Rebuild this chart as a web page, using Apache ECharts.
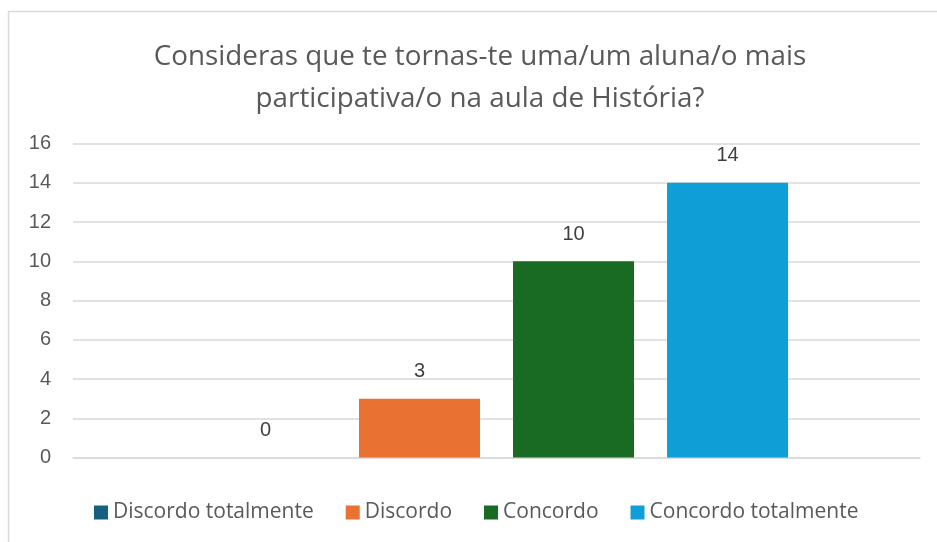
<!DOCTYPE html>
<html><head><meta charset="utf-8">
<script src="https://cdn.jsdelivr.net/npm/echarts@6/dist/echarts.min.js"></script>
<style>html,body{margin:0;padding:0;background:#fff}#c{width:937px;height:542px}</style>
</head><body><div id="c"></div>
<script>
const categories = [''];
const seriesNames = ['Discordo totalmente', 'Discordo', 'Concordo', 'Concordo totalmente'];
const seriesValues = [[0], [3], [10], [14]];
const seriesColors = ['#156082', '#E97132', '#196B24', '#0F9ED5'];
const yTicks = [0, 2, 4, 6, 8, 10, 12, 14, 16];
const titleText = 'Consideras que te tornas-te uma/um aluna/o mais\nparticipativa/o na aula de História?';

const font = '"Open Sans", "Noto Sans", sans-serif';
const numFont = '"Liberation Sans", Arial, sans-serif';
const chart = echarts.init(document.getElementById('c'), null, {renderer: 'canvas'});
chart.setOption({
  animation: false,
  backgroundColor: '#fff',
  graphic: [{type: 'rect', shape: {x: 8.5, y: 11.5, width: 1000, height: 1000}, style: {fill: 'none', stroke: '#d9d9d9', lineWidth: 1.5}, silent: true}],
  title: {
    text: titleText, left: 475, top: 31, textAlign: 'center',
    textStyle: {fontFamily: font, fontSize: 27.8, fontWeight: 'normal', color: '#595959', lineHeight: 42}
  },
  legend: {
    data: seriesNames, bottom: 14, left: 89, itemWidth: 14, itemHeight: 14, itemGap: 32,
    icon: 'rect',
    textStyle: {fontFamily: font, fontSize: 21, color: '#595959', padding: [0, 0, 0, 0]}
  },
  grid: {left: 73, right: 17, top: 143.5, bottom: 84.5, containLabel: false},
  xAxis: {type: 'category', data: categories, axisLine: {show: true, lineStyle: {color: '#d9d9d9', width: 1.5}}, axisTick: {show: false}, axisLabel: {show: false}},
  yAxis: {
    type: 'value', min: yTicks[0], max: yTicks[yTicks.length - 1], interval: 2,
    axisLine: {show: false}, axisTick: {show: false},
    axisLabel: {fontFamily: numFont, fontSize: 20, color: '#595959', margin: 22},
    splitLine: {lineStyle: {color: '#d9d9d9', width: 1.5}}
  },
  series: seriesNames.map((n, i) => ({
    name: n, type: 'bar', data: seriesValues[i], barWidth: 121, barGap: '27.3%',
    itemStyle: {color: seriesColors[i]},
    label: {show: true, position: 'top', distance: 17, fontFamily: numFont, fontSize: 20, color: '#404040'}
  }))
});
</script></body></html>
